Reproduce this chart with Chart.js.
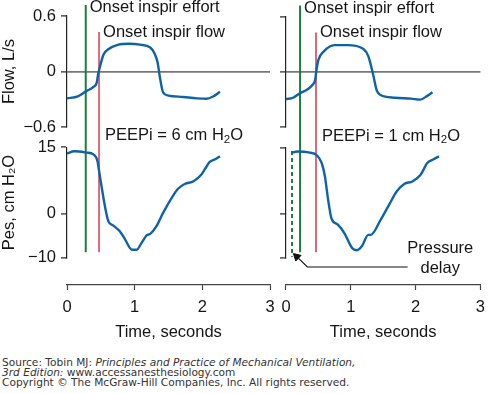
<!DOCTYPE html>
<html>
<head>
<meta charset="utf-8">
<script src="https://cdn.jsdelivr.net/npm/chart.js@4.4.1/dist/chart.umd.min.js"></script>
<style>
  body { margin: 0; background: #fff; width: 493px; height: 394px; overflow: hidden; position: relative; }
  canvas { position: absolute; left: 0; top: 0; }
  .src { position: absolute; left: 2px; top: 357px; font: 10.6px "DejaVu Sans", Verdana, sans-serif; line-height: 10px; color: #333; white-space: nowrap; }
</style>
</head>
<body>
<canvas id="left" width="493" height="343"></canvas>
<canvas id="right" width="493" height="343"></canvas>
<div class="src">Source: Tobin MJ: <i>Principles and Practice of Mechanical Ventilation,</i><br><i>3rd Edition:</i> www.accessanesthesiology.com<br>Copyright © The McGraw-Hill Companies, Inc. All rights reserved.</div>
<script>
// tick labels
const flowTicks = [-0.6, 0, 0.6];
const pesTicks = [-10, 0, 15];
const timeTicks = [0, 1, 2, 3];

// left panel, PEEPi = 6
const flowTimeL = [0, 0.16, 0.28, 0.39, 0.44, 0.46, 0.49, 0.54, 0.61, 0.76, 0.91, 1.08, 1.23, 1.29, 1.34, 1.37, 1.42, 1.50, 1.72, 1.92, 2.06, 2.16, 2.26];
const flowL = [-0.29, -0.27, -0.215, -0.167, -0.12, -0.03, 0.06, 0.185, 0.24, 0.29, 0.30, 0.29, 0.26, 0.20, 0.095, -0.05, -0.225, -0.26, -0.275, -0.29, -0.295, -0.27, -0.22];
const pesTimeL = [0, 0.11, 0.29, 0.39, 0.45, 0.47, 0.51, 0.56, 0.61, 0.68, 0.78, 0.86, 0.96, 1.03, 1.10, 1.18, 1.23, 1.32, 1.42, 1.55, 1.64, 1.74, 1.87, 1.99, 2.04, 2.11, 2.19, 2.26];
const pesL = [13.6, 14.1, 13.8, 13.4, 11.9, 10, 6.2, 1.7, -1.7, -2.7, -4.0, -5.9, -8.2, -8.2, -6.7, -4.9, -4.6, -2.9, 0.15, 3.6, 5.6, 6.7, 7.3, 8.9, 10.1, 11.7, 12.3, 13.0];

// right panel, PEEPi = 1
const flowTimeR = [0, 0.11, 0.22, 0.33, 0.41, 0.45, 0.47, 0.50, 0.58, 0.75, 0.95, 1.19, 1.27, 1.34, 1.40, 1.46, 1.68, 1.93, 2.07, 2.18, 2.26];
const flowR = [-0.295, -0.28, -0.23, -0.19, -0.14, -0.087, 0.02, 0.13, 0.22, 0.29, 0.29, 0.25, 0.17, -0.015, -0.20, -0.25, -0.28, -0.29, -0.30, -0.26, -0.22];
const pesTimeR = [0.08, 0.18, 0.35, 0.48, 0.55, 0.60, 0.65, 0.70, 0.80, 0.90, 1.02, 1.09, 1.17, 1.27, 1.31, 1.46, 1.59, 1.71, 1.83, 1.95, 2.08, 2.18, 2.27, 2.36];
const pesR = [13.8, 14.1, 13.9, 13.2, 11.5, 8.5, 3.2, -1.0, -2.5, -4.4, -7.8, -8.3, -7.4, -4.8, -4.8, -1.4, 2.0, 5.1, 6.8, 7.3, 8.9, 11.5, 12.3, 13.0];

// event times (s): onset of effort, onset of flow, start of pressure fall
const effortL = 0.277, flowOnL = 0.474;
const effortR = 0.217, flowOnR = 0.463, pesDropR = 0.093;

const FONT = '"Liberation Sans", Arial, Helvetica, sans-serif';
const INK = '#151515';
const BLUE = '#0e63a8';
const GREEN = '#1e7d3c';
const RED = '#d96b78';

Chart.defaults.font.family = FONT;
Chart.defaults.font.size = 16.5;
Chart.defaults.color = INK;

function fmt(v) { return v < 0 ? '\u2212' + Math.abs(v) : String(v); }
function pts(xs, ys) { return xs.map((x, i) => ({ x, y: ys[i] })); }
function vline(t, top, bottom) { return [{ x: t, y: top }, { x: t, y: bottom }]; }

// spacer in the left axis stack
function gap(weight, w) {
  return { type: 'linear', display: false, position: 'left', stack: 'y', stackWeight: w, weight, min: 0, max: 1 };
}

function yAxis(tickVals, title, w, weight, width, zeroLine) {
  return {
    type: 'linear', position: 'left', stack: 'y', stackWeight: w, weight,
    min: tickVals[0], max: tickVals[tickVals.length - 1],
    afterBuildTicks: s => { s.ticks = tickVals.map(v => ({ value: v })); },
    afterFit: s => { s.width = width; s.paddingTop = 0; s.paddingBottom = 0; },
    border: { display: true, color: '#222', width: 1.2 },
    grid: {
      drawOnChartArea: zeroLine,
      color: c => (c.tick && c.tick.value === 0) ? '#777' : 'rgba(0,0,0,0)',
      lineWidth: 1.8, tickColor: '#222', tickLength: 6, tickWidth: 1.2
    },
    ticks: { display: !!title, padding: 5, callback: v => fmt(v) },
    title: { display: !!title, text: title || '', padding: { top: 0, bottom: 0 } }
  };
}

function xAxis() {
  return {
    type: 'linear', position: 'bottom', min: 0, max: 3,
    afterBuildTicks: s => { s.ticks = timeTicks.map(v => ({ value: v })); },
    afterFit: s => { s.height = 58; },
    border: { color: '#444', width: 1.2 },
    grid: { drawOnChartArea: false, tickColor: '#444', tickLength: 5, tickWidth: 1.2 },
    ticks: { padding: 8, maxRotation: 0, autoSkip: false },
    title: { display: true, text: 'Time, seconds', padding: { top: 0, bottom: 1 } }
  };
}

function curve(data, axis) {
  return { data, yAxisID: axis, borderColor: BLUE, borderWidth: 2.4, pointRadius: 0, cubicInterpolationMode: 'monotone', clip: false };
}
function marker(data, color, dash) {
  return { data, yAxisID: 'yP', borderColor: color, borderWidth: 2, borderDash: dash || [], pointRadius: 0, clip: false };
}

// text with optional subscript pieces
function drawRich(ctx, parts, x, y, align) {
  const big = '16.5px ' + FONT, small = '11.5px ' + FONT;
  let total = 0;
  parts.forEach(p => { ctx.font = p[1] ? small : big; total += ctx.measureText(p[0]).width; });
  let cx = align === 'center' ? x - total / 2 : x;
  parts.forEach(p => {
    ctx.font = p[1] ? small : big;
    ctx.fillText(p[0], cx, p[1] ? y + 4 : y);
    cx += ctx.measureText(p[0]).width;
  });
}

const notesPlugin = {
  id: 'notes',
  afterDatasetsDraw(chart, args, opts) {
    const { ctx, scales } = chart;
    ctx.save();
    ctx.fillStyle = INK;
    ctx.textBaseline = 'middle';
    ctx.textAlign = 'left';
    opts.items.forEach(n => {
      const px = scales.x.getPixelForValue(n.t) + (n.dx || 0);
      const py = scales[n.axis].getPixelForValue(n.v);
      drawRich(ctx, n.parts, px, py, n.align);
    });
    ctx.restore();
  }
};

function panel(id, o) {
  new Chart(document.getElementById(id), {
    type: 'line',
    data: { datasets: o.datasets },
    options: {
      responsive: false,
      animation: false,
      events: [],
      layout: { padding: o.padding },
      plugins: { legend: { display: false }, tooltip: { enabled: false }, notes: { items: o.notes } },
      scales: {
        x: xAxis(),
        g0: gap(5, 11),
        yF: yAxis(flowTicks, o.flowTitle, 111, 4, o.axisWidth, true),
        g1: gap(3, 20.3),
        yP: yAxis(pesTicks, o.pesTitle, 110.4, 2, o.axisWidth, false),
        g2: gap(1, 27.3)
      }
    },
    plugins: [notesPlugin]
  });
}

const TOP_EFFORT = 47.2, TOP_FLOW = 41.1, LINE_BOTTOM = -8.75;

panel('left', {
  padding: { left: 0, top: 5, right: 223, bottom: 0 },
  axisWidth: 67,
  flowTitle: 'Flow, L/s',
  pesTitle: 'Pes, cm H\u2082O',
  datasets: [
    curve(pts(flowTimeL, flowL), 'yF'),
    curve(pts(pesTimeL, pesL), 'yP'),
    marker(vline(effortL, TOP_EFFORT, LINE_BOTTOM), GREEN),
    marker(vline(flowOnL, TOP_FLOW, LINE_BOTTOM), RED)
  ],
  notes: [
    { parts: [['Onset inspir effort']], t: effortL, dx: 4, axis: 'yF', v: 0.692 },
    { parts: [['Onset inspir flow']], t: flowOnL, dx: 4, axis: 'yF', v: 0.422 },
    { parts: [['PEEPi = 6 cm H'], ['2', 1], ['O']], t: flowOnL, dx: 6, axis: 'yP', v: 17.6 }
  ]
});

panel('right', {
  padding: { left: 280, top: 5, right: 4, bottom: 0 },
  axisWidth: 6,
  flowTitle: null,
  pesTitle: null,
  datasets: [
    curve(pts(flowTimeR, flowR), 'yF'),
    curve(pts(pesTimeR, pesR), 'yP'),
    marker(vline(effortR, TOP_EFFORT, LINE_BOTTOM), GREEN),
    marker(vline(flowOnR, TOP_FLOW, LINE_BOTTOM), RED),
    marker(vline(pesDropR, 14.2, -9.8), GREEN, [4, 3]),
    {
      data: [{ x: 0.166, y: -9.76 }, { x: 0.33, y: -12.1 }, { x: 1.877, y: -12.1 }],
      yAxisID: 'yP', borderColor: '#111', borderWidth: 1.2, clip: false,
      pointStyle: 'triangle', pointRadius: [4.5, 0, 0], pointRotation: [-47, 0, 0],
      pointBackgroundColor: '#111', pointBorderColor: '#111', pointBorderWidth: 1
    }
  ],
  notes: [
    { parts: [['Onset inspir effort']], t: effortR, dx: 4, axis: 'yF', v: 0.692 },
    { parts: [['Onset inspir flow']], t: flowOnR, dx: 4, axis: 'yF', v: 0.422 },
    { parts: [['PEEPi = 1 cm H'], ['2', 1], ['O']], t: flowOnR, dx: 6, axis: 'yP', v: 17.6 },
    { parts: [['Pressure']], t: 2.38, axis: 'yP', v: -7.97, align: 'center' },
    { parts: [['delay']], t: 2.38, axis: 'yP', v: -12.5, align: 'center' }
  ]
});
</script>
</body>
</html>
